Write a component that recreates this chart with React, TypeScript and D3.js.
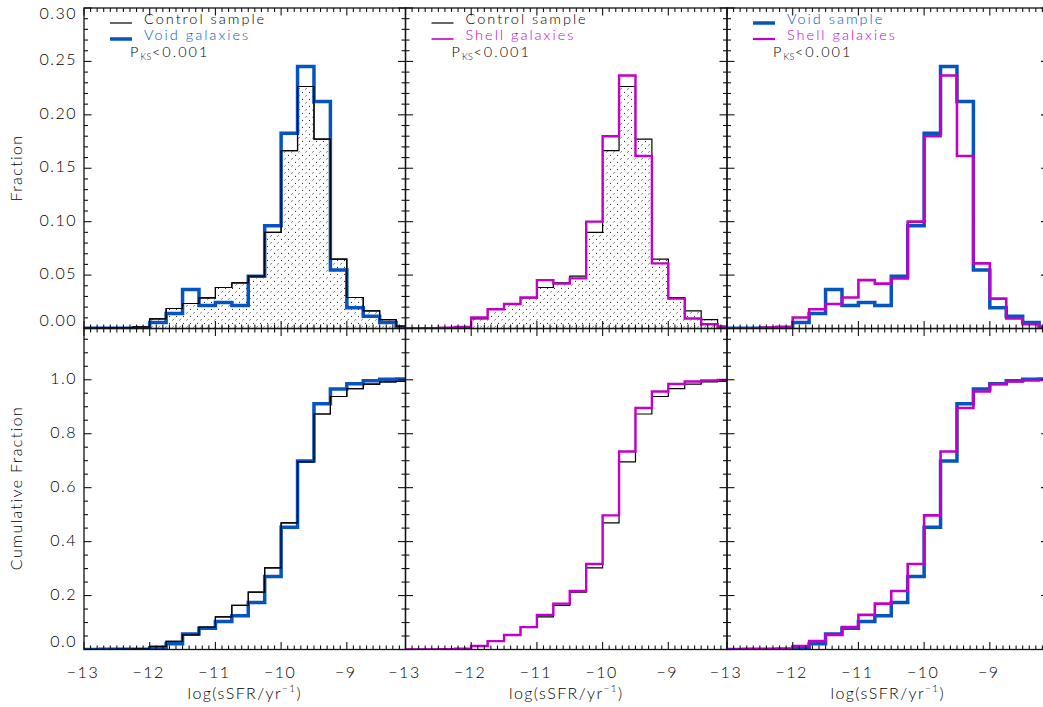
import React from 'react';
import * as d3 from 'd3';

// lower edges of the 0.25 dex sSFR bins
const binStarts = [
  -13, -12.75, -12.5, -12.25, -12, -11.75, -11.5, -11.25, -11, -10.75,
  -10.5, -10.25, -10, -9.75, -9.5, -9.25, -9, -8.75, -8.5, -8.25,
];
const binWidth = 0.25;

// fraction per bin
const controlFrac = [
  0.0003, 0.0005, 0.0005, 0.0015, 0.009, 0.0187, 0.0234, 0.0287, 0.0384, 0.0428,
  0.049, 0.09, 0.1665, 0.2265, 0.1772, 0.065, 0.029, 0.0165, 0.0084, 0.0022,
];
const voidFrac = [
  0.0002, 0.0003, 0.0003, 0.0005, 0.0056, 0.014, 0.0366, 0.0216, 0.0244, 0.0216,
  0.049, 0.0962, 0.1828, 0.2453, 0.2125, 0.0547, 0.0194, 0.0115, 0.0056, 0.001,
];
const shellFrac = [
  0.0, 0.0003, 0.0008, 0.0015, 0.0103, 0.018, 0.023, 0.029, 0.0453, 0.042,
  0.0469, 0.1, 0.18, 0.2368, 0.1615, 0.061, 0.028, 0.0094, 0.004, 0.0015,
];

const BLUE = '#0653c2';
const MAGENTA = '#c200c8';
const FONT = 'Lato, "Open Sans", sans-serif';

const panelLefts = [84, 405.5, 727];
const panelW = 321.5;
const topY0 = 8;
const midY = 328.5;
const botY1 = 649.5;

const xDomain: [number, number] = [-13, -8.107];

type Series = { values: number[]; color: string; width: number; fill?: boolean };

const legends = [
  [
    { label: 'Control sample', color: '#000', width: 1.2, textColor: '#000' },
    { label: 'Void galaxies', color: BLUE, width: 3.5, textColor: BLUE },
  ],
  [
    { label: 'Control sample', color: '#000', width: 1.2, textColor: '#000' },
    { label: 'Shell galaxies', color: MAGENTA, width: 1.6, textColor: MAGENTA },
  ],
  [
    { label: 'Void sample', color: BLUE, width: 3.5, textColor: BLUE },
    { label: 'Shell galaxies', color: MAGENTA, width: 2.2, textColor: MAGENTA },
  ],
];

const Panel = ({
  left, top, bottom, yMax, series, cumulative, showY, showX, idx, legend,
}: any) => {
  const x = d3.scaleLinear().domain(xDomain).range([left, left + panelW]);
  const y = d3.scaleLinear().domain([0, yMax]).range([bottom, top]);

  const stepPts = (vals: number[]) => {
    const pts: [number, number][] = binStarts.map((b, i) => [b, vals[i]]);
    pts.push([binStarts[binStarts.length - 1] + binWidth, vals[vals.length - 1]]);
    return pts;
  };
  const stepLine = (vals: number[]) =>
    d3.line<[number, number]>()
      .x((d) => x(d[0]))
      .y((d) => y(d[1]))
      .curve(d3.curveStepAfter)(stepPts(vals)) as string;
  const stepArea = (vals: number[]) =>
    d3.area<[number, number]>()
      .x((d) => x(d[0]))
      .y0(y(0))
      .y1((d) => y(d[1]))
      .curve(d3.curveStepAfter)(stepPts(vals)) as string;

  const xMajor = x.ticks(5);
  const xMinor = x.ticks(50);
  const yMajor = y.ticks(6);
  const yMinor = y.ticks(cumulative ? 24 : 30);
  const yFmt = d3.format(cumulative ? '.1f' : '.2f');
  const clipId = `clip-${idx}-${cumulative ? 'c' : 'h'}`;
  const right = left + panelW;
  const MJ = 7.5;
  const MN = 4;

  return (
    <g>
      <defs>
        <clipPath id={clipId}>
          <rect x={left} y={top} width={panelW} height={bottom - top} />
        </clipPath>
      </defs>
      <g clipPath={`url(#${clipId})`}>
        {series.map((s: Series, i: number) => {
          const vals = cumulative ? Array.from(d3.cumsum(s.values)) : s.values;
          return (
            <g key={i}>
              {s.fill && !cumulative && (
                <path d={stepArea(vals)} fill="url(#dots)" stroke="none" />
              )}
              <path d={stepLine(vals)} fill="none" stroke={s.color} strokeWidth={s.width} />
            </g>
          );
        })}
      </g>
      {/* frame */}
      <rect x={left} y={top} width={panelW} height={bottom - top} fill="none" stroke="#111" strokeWidth={1.3} />
      {xMinor.map((t) => {
        const len = xMajor.some((m) => Math.abs(m - t) < 1e-6) ? MJ : MN;
        return (
          <g key={`xt${t}`} stroke="#111" strokeWidth={1.1}>
            <line x1={x(t)} x2={x(t)} y1={bottom} y2={bottom - len} />
            <line x1={x(t)} x2={x(t)} y1={top} y2={top + len} />
          </g>
        );
      })}
      {yMinor.map((t) => {
        const len = yMajor.some((m) => Math.abs(m - t) < 1e-6) ? MJ : MN;
        return (
          <g key={`yt${t}`} stroke="#111" strokeWidth={1.1}>
            <line x1={left} x2={left + len} y1={y(t)} y2={y(t)} />
            <line x1={right} x2={right - len} y1={y(t)} y2={y(t)} />
          </g>
        );
      })}
      {showY && yMajor.map((t) => (
        <text key={`yl${t}`} x={left - 7} y={Math.min(Math.max(y(t), top + 7), bottom - 6)}
          textAnchor="end" dominantBaseline="middle" fontSize={16} fontFamily={FONT}
          fontWeight={300} letterSpacing={1.5} fill="#000">
          {yFmt(t)}
        </text>
      ))}
      {showX && xMajor.map((t) => (
        <text key={`xl${t}`} x={x(t) - 1} y={bottom + 28.5} textAnchor="middle" fontSize={16}
          fontFamily={FONT} fontWeight={300} letterSpacing={1.5} fill="#000">
          {t < 0 ? `\u2212${Math.abs(t)}` : `${t}`}
        </text>
      ))}
      {showX && (
        <text x={left + panelW / 2} y={bottom + 49} textAnchor="middle" fontSize={16}
          fontFamily={FONT} fontWeight={300} letterSpacing={1.4} fill="#000">
          log(sSFR/yr
          <tspan fontSize={10} dy={-7}>{'\u22121'}</tspan>
          <tspan dy={7}>)</tspan>
        </text>
      )}
      {legend && (
        <g fontFamily={FONT} fontWeight={300} fontSize={14.5} letterSpacing={2}>
          {legend.map((l: any, i: number) => (
            <g key={i}>
              <line x1={left + 26} x2={left + 48} y1={23 + i * 16} y2={23 + i * 16}
                stroke={l.color} strokeWidth={l.width} />
              <text x={left + 60} y={24 + i * 16} fill={l.textColor}>{l.label}</text>
            </g>
          ))}
          <text x={left + 46} y={57} fill="#000">
            P<tspan fontSize={9} dy={3} letterSpacing={0.5}>KS</tspan>
            <tspan dy={-3}>{'<0.001'}</tspan>
          </text>
        </g>
      )}
    </g>
  );
};

const App = () => {
  const control: Series = { values: controlFrac, color: '#000', width: 1.2, fill: true };
  const voids: Series = { values: voidFrac, color: BLUE, width: 3.5 };
  const shellThin: Series = { values: shellFrac, color: MAGENTA, width: 2.4 };
  const shell: Series = { values: shellFrac, color: MAGENTA, width: 2.6 };

  const panelSeries: Series[][] = [
    [control, voids, { ...control, fill: false }],
    [control, shellThin],
    [voids, shell],
  ];

  return (
    <div style={{ position: 'absolute', left: 0, top: 0 }}>
      <svg width={1043} height={707} style={{ display: 'block', background: '#fff' }}>
        <defs>
          <pattern id="dots" width={7} height={7} patternUnits="userSpaceOnUse">
            <line x1={1} y1={1.8} x2={2} y2={1} stroke="#000" strokeWidth={0.9} />
            <line x1={4.5} y1={5.3} x2={5.5} y2={4.5} stroke="#000" strokeWidth={0.9} />
          </pattern>
        </defs>
        {panelLefts.map((left, i) => (
          <g key={i}>
            <Panel left={left} top={topY0} bottom={midY} yMax={0.3} series={panelSeries[i]}
              cumulative={false} showY={i === 0} showX={false} idx={i} legend={legends[i]} />
            <Panel left={left} top={midY} bottom={botY1} yMax={1.19} series={panelSeries[i]}
              cumulative={true} showY={i === 0} showX={true} idx={i} />
          </g>
        ))}
        <text transform={`translate(22,168) rotate(-90)`} textAnchor="middle" fontSize={16}
          fontFamily={FONT} fontWeight={300} letterSpacing={1.4}>Fraction</text>
        <text transform={`translate(22,488) rotate(-90)`} textAnchor="middle" fontSize={16}
          fontFamily={FONT} fontWeight={300} letterSpacing={1.4}>Cumulative Fraction</text>
      </svg>
    </div>
  );
};

export default App;
